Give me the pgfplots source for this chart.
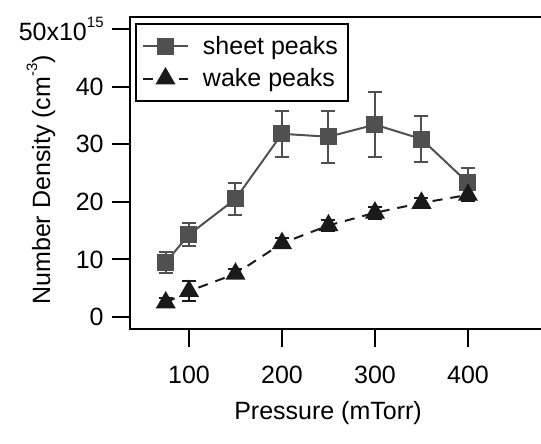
\documentclass[border=0pt]{standalone}
\usepackage{fontspec}
\setmainfont{Liberation Sans}
\usepackage{pgfplots}
\pgfplotsset{compat=1.18}
\usetikzlibrary{calc}
\definecolor{sheetgray}{HTML}{505050}
\definecolor{wakeblack}{HTML}{1A1A1A}
\newcommand{\sups}[1]{\raisebox{6.5pt}{\fontsize{7.5}{8}\selectfont #1}}

\begin{document}
\begin{tikzpicture}
\begin{axis}[
  name=ax,
  scale only axis,
  width=208pt, height=156pt,
  xmin=36.56, xmax=483.9,
  ymin=-2.08, ymax=52.08,
  font=\fontsize{12.5}{15}\selectfont,
  /pgf/number format/assume math mode=true,
  axis line style={line width=1pt},
  tick style={line width=1pt, black},
  major tick length=9pt,
  tick align=outside,
  tick pos=left,
  xtick={100,200,300,400},
  ytick={0,10,20,30,40,50},
  yticklabels={0,10,20,30,40,{50x10\sups{15}\hspace{8pt}}},
  yticklabel style={inner sep=0pt, anchor=east},
  yticklabel shift=4pt,
  xticklabel style={inner sep=0pt, anchor=north, yshift=-9.5pt},
  xlabel={Pressure (mTorr)},
  ylabel={Number Density (cm\sups{-3})},
  xlabel style={at={(axis description cs:0.476,-0.269)}, anchor=center},
  ylabel style={at={(axis description cs:-0.214,0.478)}, anchor=center, rotate=0},
  legend style={at={(axis description cs:0.012,0.981)}, anchor=north west,
    draw=black, line width=1pt, inner xsep=3pt, inner ysep=4pt, row sep=1.5pt,
    font=\fontsize{12.5}{15}\selectfont, cells={anchor=west},
    /tikz/every odd column/.append style={column sep=5pt}},
  legend image code/.code={%
    \draw[mark repeat=2,mark phase=2,#1] plot coordinates {(0pt,0pt) (11.25pt,0pt) (22.5pt,0pt)};},
]
\addplot[sheetgray, line width=1pt, mark=square*, mark size=3.75pt,
  mark options={solid, fill=sheetgray},
  error bars/.cd, y dir=both, y explicit,
  error mark options={rotate=90, mark size=3.5pt, line width=1pt, sheetgray},
  error bar style={line width=1pt, sheetgray}]
coordinates {
  (75,9.5) +- (0,1.8)
  (100,14.3) +- (0,2.0)
  (150,20.5) +- (0,2.8)
  (200,31.8) +- (0,4.0)
  (250,31.3) +- (0,4.5)
  (300,33.4) +- (0,5.6)
  (350,30.9) +- (0,4.0)
  (400,23.3) +- (0,2.5)
};
\addlegendentry{sheet peaks}
\addplot[wakeblack, line width=1pt, dash pattern=on 5pt off 4pt,
  mark=triangle*, mark size=4.8pt, mark options={solid, fill=wakeblack},
  error bars/.cd, y dir=both, y explicit,
  error mark options={rotate=90, mark size=3.5pt, line width=1pt, solid, wakeblack},
  error bar style={line width=1pt, solid, wakeblack}]
coordinates {
  (75,2.5) +- (0,0.8)
  (100,4.5) +- (0,1.8)
  (150,7.5) +- (0,0.8)
  (200,12.8) +- (0,0.9)
  (250,15.9) +- (0,0.9)
  (300,18.1) +- (0,1.0)
  (350,19.8) +- (0,0.9)
  (400,21.2) +- (0,1.1)
};
\addlegendentry{wake peaks}
\end{axis}
\pgfresetboundingbox
\path[use as bounding box] ($(ax.south west)+(-65pt,-57pt)$) rectangle ($(ax.north west)+(205.5pt,8.5pt)$);
\end{tikzpicture}
\end{document}
